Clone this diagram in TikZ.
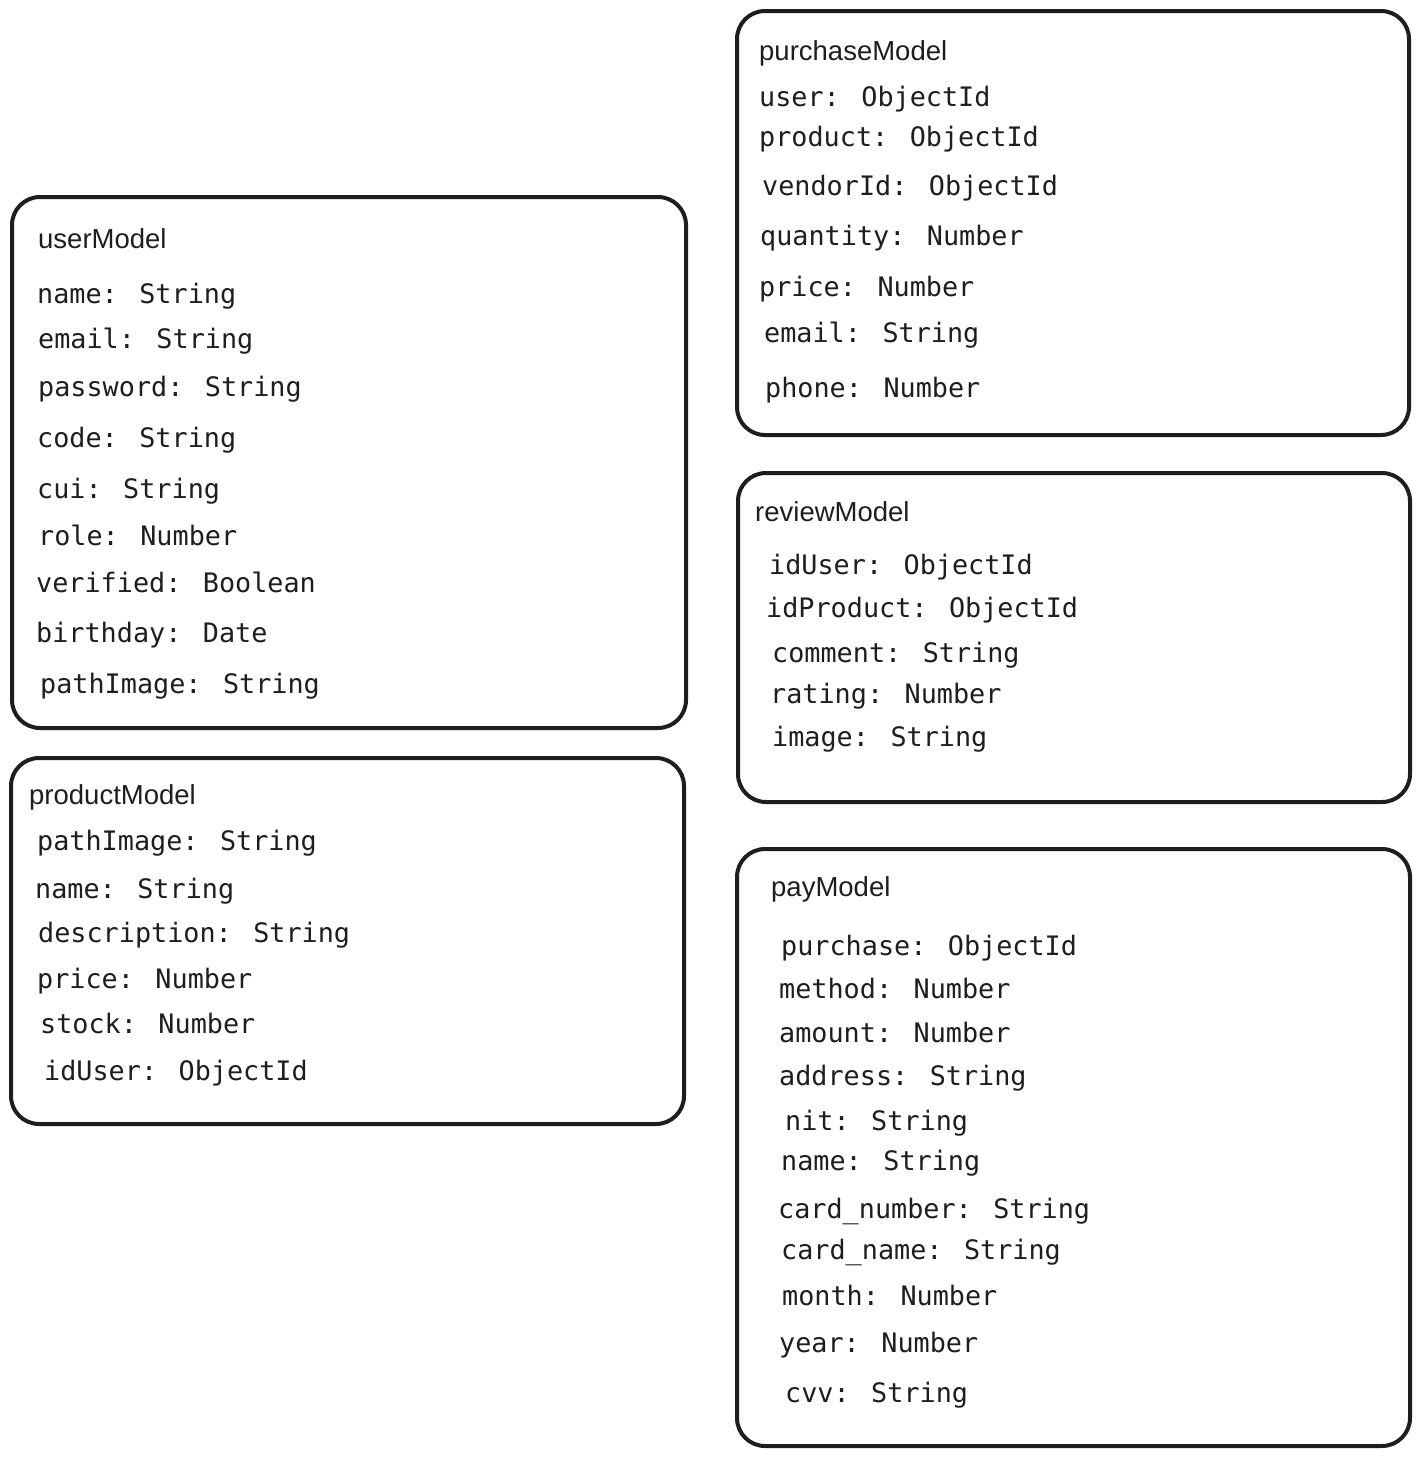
\documentclass[tikz,border=0pt]{standalone}
\usepackage{fontspec}
\newfontfamily\titlefont{Liberation Sans}
\newfontfamily\fieldfont{DejaVu Sans Mono}
\definecolor{ink}{HTML}{1E1E1E}
\tikzset{
  modelbox/.style={draw=ink, line width=4pt, rounded corners=28pt, rectangle, anchor=north west, inner sep=0pt, outer sep=0pt},
  titletext/.style={anchor=base west, inner sep=0pt, text=ink, font=\titlefont\fontsize{27.5}{32}\selectfont},
  fieldtext/.style={anchor=base west, inner sep=0pt, text=ink, font=\fieldfont\fontsize{26.8}{32}\selectfont},
}
\begin{document}
\begin{tikzpicture}[x=1pt,y=-1pt]
\useasboundingbox (0,0) rectangle (1421,1457);
\fill[white] (0,0) rectangle (1421,1457);
% boxes
\node[modelbox, minimum width=672pt, minimum height=424pt] (purchasebox) at (737,11) {};
\node[modelbox, minimum width=674pt, minimum height=531pt] (userbox) at (12,197) {};
\node[modelbox, minimum width=672pt, minimum height=329pt] (reviewbox) at (738,473) {};
\node[modelbox, minimum width=673pt, minimum height=366pt] (productbox) at (11,758) {};
\node[modelbox, minimum width=673pt, minimum height=597pt] (paybox) at (737,849) {};
% purchaseModel
\node[titletext] (pt) at (759,60) {purchaseModel};
\node[fieldtext] (p1) at (759,106) {user: ObjectId};
\node[fieldtext] (p2) at (759,146) {product: ObjectId};
\node[fieldtext] (p3) at (762,195) {vendorId: ObjectId};
\node[fieldtext] (p4) at (760,245) {quantity: Number};
\node[fieldtext] (p5) at (759,296) {price: Number};
\node[fieldtext] (p6) at (764,342) {email: String};
\node[fieldtext] (p7) at (765,397) {phone: Number};
% userModel
\node[titletext] (ut) at (38,248) {userModel};
\node[fieldtext] (u1) at (37,303) {name: String};
\node[fieldtext] (u2) at (38,348) {email: String};
\node[fieldtext] (u3) at (38,396) {password: String};
\node[fieldtext] (u4) at (37,447) {code: String};
\node[fieldtext] (u5) at (37,498) {cui: String};
\node[fieldtext] (u6) at (38,545) {role: Number};
\node[fieldtext] (u7) at (36,592) {verified: Boolean};
\node[fieldtext] (u8) at (36,642) {birthday: Date};
\node[fieldtext] (u9) at (40,693) {pathImage: String};
% productModel
\node[titletext] (prt) at (29,804) {productModel};
\node[fieldtext] (pr1) at (37,850) {pathImage: String};
\node[fieldtext] (pr2) at (35,898) {name: String};
\node[fieldtext] (pr3) at (38,942) {description: String};
\node[fieldtext] (pr4) at (37,988) {price: Number};
\node[fieldtext] (pr5) at (40,1033) {stock: Number};
\node[fieldtext] (pr6) at (44,1080) {idUser: ObjectId};
% reviewModel
\node[titletext] (rt) at (755,521) {reviewModel};
\node[fieldtext] (r1) at (769,574) {idUser: ObjectId};
\node[fieldtext] (r2) at (766,617) {idProduct: ObjectId};
\node[fieldtext] (r3) at (772,662) {comment: String};
\node[fieldtext] (r4) at (770,703) {rating: Number};
\node[fieldtext] (r5) at (772,746) {image: String};
% payModel
\node[titletext] (yt) at (771,896) {payModel};
\node[fieldtext] (y1) at (781,955) {purchase: ObjectId};
\node[fieldtext] (y2) at (779,998) {method: Number};
\node[fieldtext] (y3) at (779,1042) {amount: Number};
\node[fieldtext] (y4) at (779,1085) {address: String};
\node[fieldtext] (y5) at (785,1130) {nit: String};
\node[fieldtext] (y6) at (781,1170) {name: String};
\node[fieldtext] (y7) at (778,1218) {card\_number: String};
\node[fieldtext] (y8) at (781,1259) {card\_name: String};
\node[fieldtext] (y9) at (782,1305) {month: Number};
\node[fieldtext] (y10) at (779,1352) {year: Number};
\node[fieldtext] (y11) at (785,1402) {cvv: String};
\end{tikzpicture}
\end{document}
